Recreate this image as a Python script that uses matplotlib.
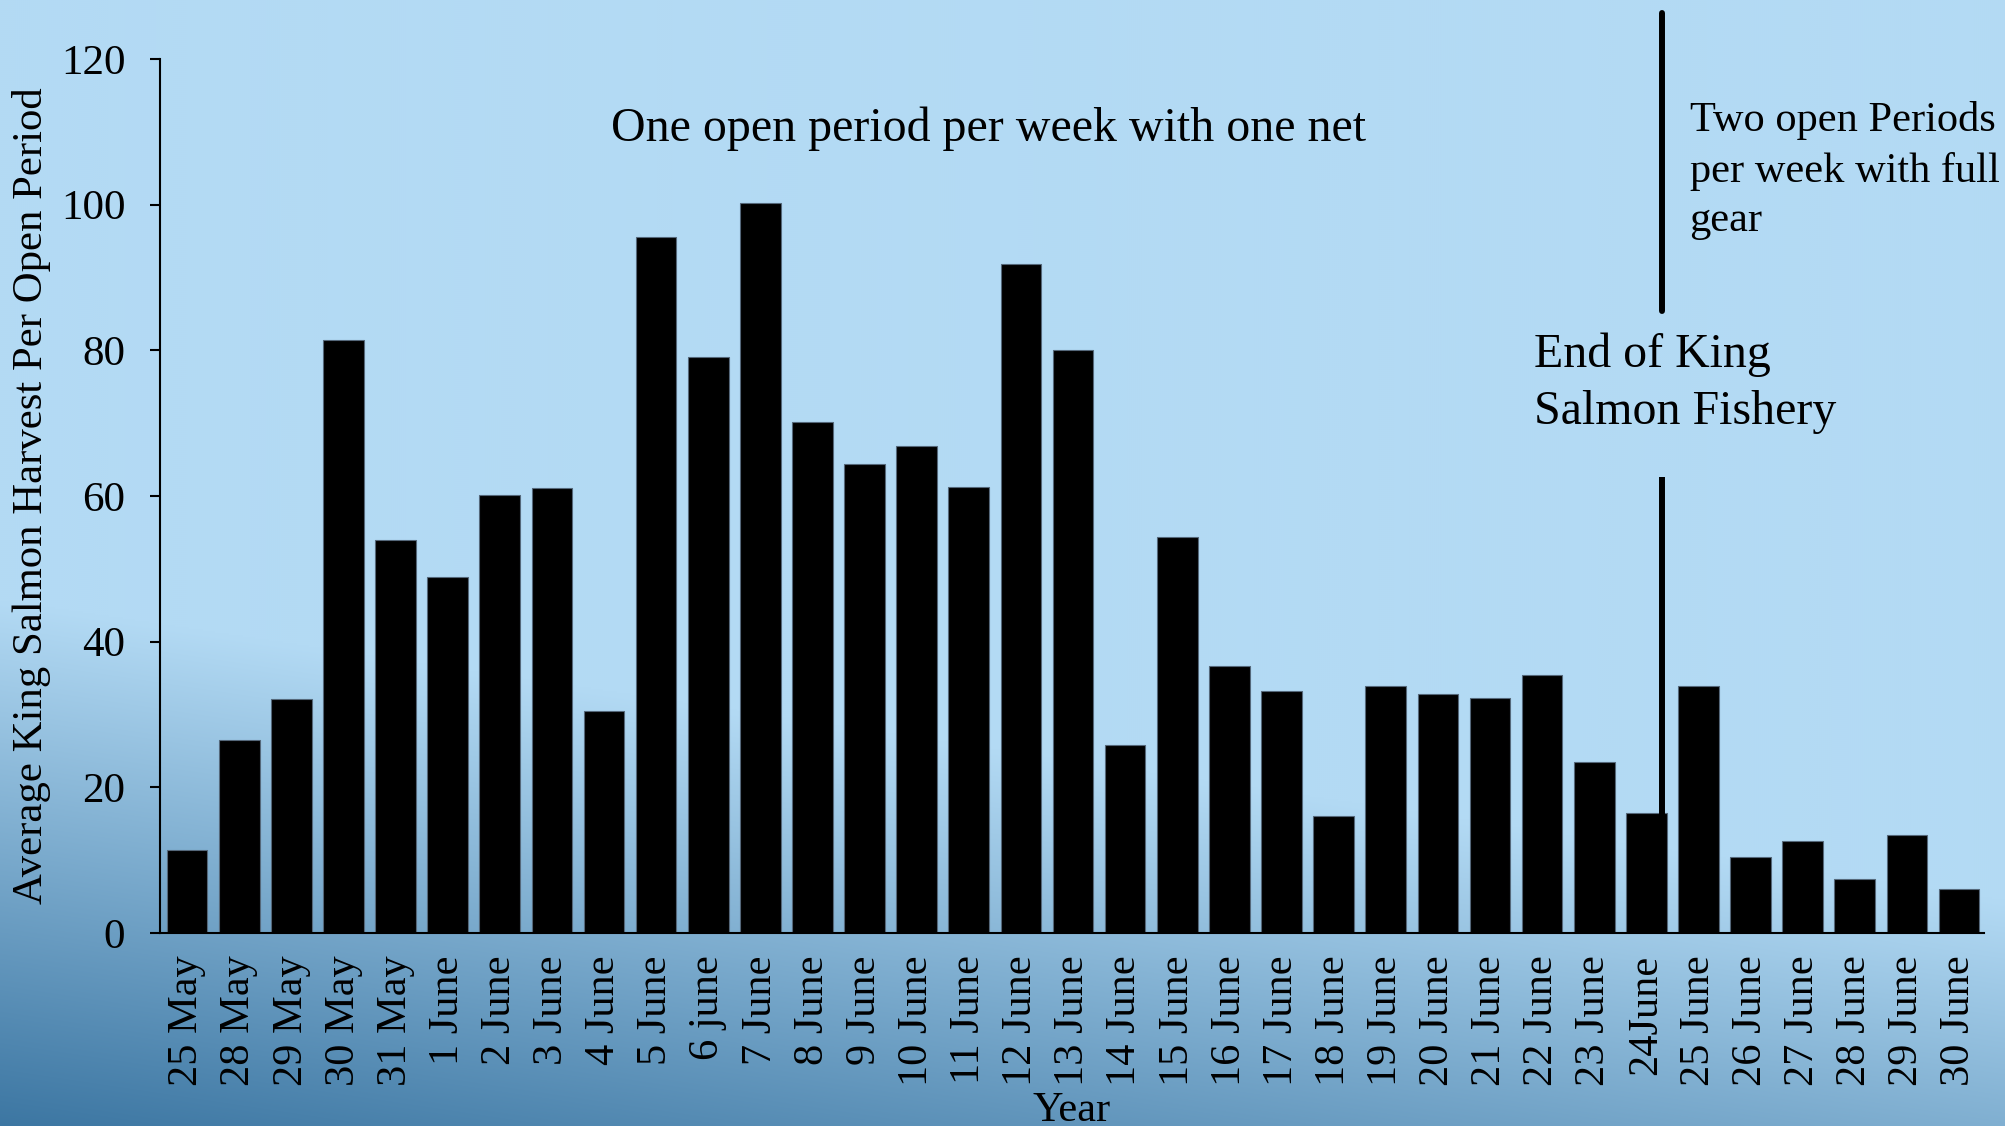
import numpy as np
import matplotlib
matplotlib.use("Agg")
import matplotlib.pyplot as plt

# 数据
dates = ['25 May', '28 May', '29 May', '30 May', '31 May', '1 June', '2 June',
         '3 June', '4 June', '5 June', '6 june', '7 June', '8 June', '9 June',
         '10 June', '11 June', '12 June', '13 June', '14 June', '15 June',
         '16 June', '17 June', '18 June', '19 June', '20 June', '21 June',
         '22 June', '23 June', '24June', '25 June', '26 June', '27 June',
         '28 June', '29 June', '30 June']
harvest = [11.4, 26.5, 32.1, 81.4, 54.0, 48.9, 60.2, 61.1, 30.5, 95.6, 79.1,
           100.2, 70.2, 64.4, 66.8, 61.2, 91.9, 80.0, 25.8, 54.4, 36.7, 33.2,
           16.1, 33.9, 32.8, 32.3, 35.4, 23.5, 16.5, 33.9, 10.4, 12.6, 7.4,
           13.5, 6.0]
y_ticks = [0, 20, 40, 60, 80, 100, 120]

plt.rcParams['font.family'] = ['Liberation Serif', 'DejaVu Serif']

W, H = 2005, 1126
fig = plt.figure(figsize=(W / 100, H / 100), dpi=100)

# 背景渐变
light = np.array([179, 218, 244]) / 255
dark = np.array([60, 118, 162]) / 255
yy, xx = np.mgrid[0:H:2, 0:W:2]
start = 600 + 300 * xx / W
t = np.clip((yy - start) / 526.0, 0, 1)
img = light[None, None, :] * (1 - t[..., None]) + dark[None, None, :] * t[..., None]
ax_bg = fig.add_axes([0, 0, 1, 1], zorder=0)
ax_bg.imshow(img, aspect='auto', interpolation='bilinear')
ax_bg.axis('off')

ax = fig.add_axes([160 / W, 1 - 933 / H, (1984 - 160) / W, (933 - 59) / H], zorder=1)
ax.set_facecolor('none')

x = np.arange(len(dates))
ax.bar(x, harvest, width=0.78, color='black', edgecolor='#55687a', linewidth=0.8)

ax.set_xlim(-0.52, len(dates) - 0.52)
ax.set_ylim(0, 120)
ax.set_yticks(y_ticks)
ax.set_xticks(x)
ax.set_xticklabels(dates, rotation=90, fontsize=30.5)
ax.tick_params(axis='x', length=0, pad=16)
ax.tick_params(axis='y', direction='out', length=7, width=1.5, pad=18, labelsize=31)
for s in ['top', 'right']:
    ax.spines[s].set_visible(False)
for s in ['left', 'bottom']:
    ax.spines[s].set_linewidth(1.5)

fig.text(32 / W, 1 - 496 / H, 'Average King Salmon Harvest Per Open Period',
         rotation=90, ha='center', va='center', fontsize=30.8)
fig.text(1072 / W, 5 / H, 'Year', ha='center', va='baseline', fontsize=30.5)

# 注释与分隔线
ax.text(15.38, 108.7, 'One open period per week with one net', ha='center',
        va='baseline', fontsize=34.5)
ax.text(25.84, 82.5, 'End of King\nSalmon Fishery', ha='left', va='top',
        fontsize=34.5, linespacing=1.38, clip_on=False)
ax.text(28.83, 114.2, 'Two open Periods\nper week with full\ngear', ha='left',
        va='top', fontsize=30.5, linespacing=1.38, clip_on=False)

line_x = 28.31
ax.plot([line_x, line_x], [85.4, 126.3], color='black', lw=4.3,
        solid_capstyle='round', clip_on=False)
ax.plot([line_x, line_x], [0, 62.6], color='black', lw=4.3,
        solid_capstyle='butt', clip_on=False)

fig.savefig('out.png', dpi=100)
